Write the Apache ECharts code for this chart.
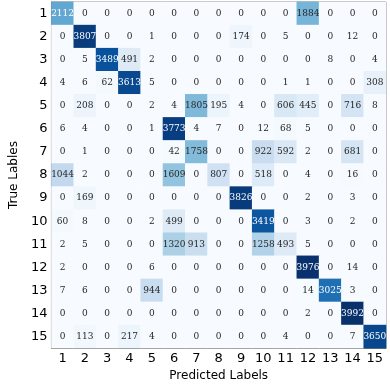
<!DOCTYPE html>
<html>
<head>
	<meta charset="UTF-8">
	<title>Confusion Matrix</title>
	<script src="https://cdn.jsdelivr.net/npm/echarts@6/dist/echarts.min.js"></script>
	<style>
		html, body { margin: 0; padding: 0; background: #fff; }
	</style>
</head>
<body>
	<div id="container" style="width: 390px; height: 387px;"></div>
	<script>
		var labels = ['1','2','3','4','5','6','7','8','9','10','11','12','13','14','15'];

		// rows = true label, cols = predicted label
		var row1  = [2112, 0, 0, 0, 0, 0, 0, 0, 0, 0, 0, 1884, 0, 0, 0];
		var row2  = [0, 3807, 0, 0, 1, 0, 0, 0, 174, 0, 5, 0, 0, 12, 0];
		var row3  = [0, 5, 3489, 491, 2, 0, 0, 0, 0, 0, 0, 0, 8, 0, 4];
		var row4  = [4, 6, 62, 3613, 5, 0, 0, 0, 0, 0, 1, 1, 0, 0, 308];
		var row5  = [0, 208, 0, 0, 2, 4, 1805, 195, 4, 0, 606, 445, 0, 716, 8];
		var row6  = [6, 4, 0, 0, 1, 3773, 4, 7, 0, 12, 68, 5, 0, 0, 0];
		var row7  = [0, 1, 0, 0, 0, 42, 1758, 0, 0, 922, 592, 2, 0, 681, 0];
		var row8  = [1044, 2, 0, 0, 0, 1609, 0, 807, 0, 518, 0, 4, 0, 16, 0];
		var row9  = [0, 169, 0, 0, 0, 0, 0, 0, 3826, 0, 0, 2, 0, 3, 0];
		var row10 = [60, 8, 0, 0, 2, 499, 0, 0, 0, 3419, 0, 3, 0, 2, 0];
		var row11 = [2, 5, 0, 0, 0, 1320, 913, 0, 0, 1258, 493, 5, 0, 0, 0];
		var row12 = [2, 0, 0, 0, 6, 0, 0, 0, 0, 0, 0, 3976, 0, 14, 0];
		var row13 = [7, 6, 0, 0, 944, 0, 0, 0, 0, 0, 0, 14, 3025, 3, 0];
		var row14 = [0, 0, 0, 0, 0, 0, 0, 0, 0, 0, 0, 2, 0, 3992, 0];
		var row15 = [0, 113, 0, 217, 4, 0, 0, 0, 0, 0, 4, 0, 0, 7, 3650];

		var rows = [row1, row2, row3, row4, row5, row6, row7, row8, row9, row10, row11, row12, row13, row14, row15];

		var maxVal = 0;
		rows.forEach(function (r) { r.forEach(function (v) { if (v > maxVal) maxVal = v; }); });

		var data = [];
		rows.forEach(function (r, i) {
			r.forEach(function (v, j) {
				data.push({
					value: [j, i, v],
					label: { color: v > maxVal / 2 ? '#ffffff' : '#262626' }
				});
			});
		});

		var myChart = echarts.init(document.getElementById('container'));

		var option = {
			animation: false,
			grid: {
				left: 32,
				top: 2,
				width: 354,
				height: 356,
				show: true,
				borderColor: '#777',
				borderWidth: 1
			},
			xAxis: {
				type: 'category',
				data: labels,
				name: 'Predicted Labels',
				nameLocation: 'middle',
				nameGap: 21,
				nameTextStyle: { fontFamily: 'DejaVu Sans', fontSize: 12, color: '#000' },
				axisLine: { lineStyle: { color: '#777' } },
				axisTick: { alignWithLabel: true, length: 3, lineStyle: { color: '#555' } },
				axisLabel: { fontFamily: 'DejaVu Sans', fontSize: 13, color: '#000', margin: 4, interval: 0 },
				splitArea: { show: false }
			},
			yAxis: {
				type: 'category',
				data: labels,
				inverse: true,
				name: 'True Lables',
				nameLocation: 'middle',
				nameGap: 24,
				nameTextStyle: { fontFamily: 'DejaVu Sans', fontSize: 12, color: '#000' },
				axisLine: { lineStyle: { color: '#777' } },
				axisTick: { alignWithLabel: true, length: 3, lineStyle: { color: '#555' } },
				axisLabel: { fontFamily: 'DejaVu Sans', fontSize: 13, color: '#000', margin: 4, interval: 0 },
				splitArea: { show: false }
			},
			visualMap: {
				show: false,
				type: 'continuous',
				min: 0,
				max: maxVal,
				dimension: 2,
				inRange: {
					color: ['#f7fbff', '#deebf7', '#c6dbef', '#9ecae1', '#6baed6', '#4292c6', '#2171b5', '#08519c', '#08306b']
				}
			},
			series: [{
				type: 'heatmap',
				data: data,
				label: {
					show: true,
					fontFamily: 'DejaVu Serif',
					fontSize: 9,
					formatter: function (p) { return p.value[2]; }
				},
				itemStyle: { borderWidth: 0 }
			}]
		};

		myChart.setOption(option, true);
	</script>
</body>
</html>
